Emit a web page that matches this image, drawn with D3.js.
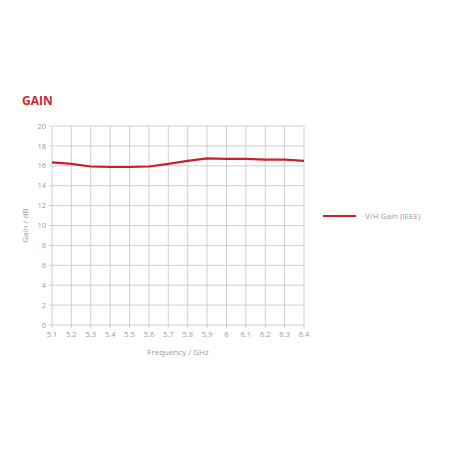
<!DOCTYPE html>
<html>
<head>
<meta charset="utf-8">
<script src="https://cdn.jsdelivr.net/npm/d3@7"></script>
<style>
  body { margin: 0; background: #fff; }
  svg { display: block; font-family: "Open Sans", sans-serif; }
</style>
</head>
<body>
<svg id="chart" width="452" height="452"></svg>
<script>
const FREQS = [5.1, 5.2, 5.3, 5.4, 5.5, 5.6, 5.7, 5.8, 5.9, 6.0, 6.1, 6.2, 6.3, 6.4];
const GAIN = [16.35, 16.2, 15.93, 15.88, 15.88, 15.93, 16.2, 16.5, 16.75, 16.7, 16.7, 16.62, 16.62, 16.5];
const X_TICKS = ['5.1', '5.2', '5.3', '5.4', '5.5', '5.6', '5.7', '5.8', '5.9', '6', '6.1', '6.2', '6.3', '6.4'];
const Y_TICKS = [0, 2, 4, 6, 8, 10, 12, 14, 16, 18, 20];
const SERIES_NAME = 'V/H Gain (IEEE)';

const RED = '#c9202b';
const GRID = '#cfcfcf';
const TEXT = '#9a9a9a';

const margin = { left: 52, top: 126, right: 148, bottom: 127 };
const svg = d3.select('#chart');
const W = 452, H = 452;
const innerW = W - margin.left - margin.right;
const innerH = H - margin.top - margin.bottom;

svg.append('text')
  .attr('x', 22).attr('y', 105)
  .attr('fill', '#c92a35')
  .attr('font-size', '12px')
  .attr('font-weight', 'bold')
  .text('GAIN');

const g = svg.append('g').attr('transform', `translate(${margin.left},${margin.top})`);

const x = d3.scalePoint().domain(d3.range(FREQS.length)).range([0, innerW]);
const y = d3.scaleLinear().domain([0, 20]).range([innerH, 0]);

// grid
g.append('g').selectAll('line.h').data(Y_TICKS).join('line')
  .attr('x1', -3).attr('x2', innerW)
  .attr('y1', d => y(d)).attr('y2', d => y(d))
  .attr('stroke', GRID).attr('stroke-width', 1);

g.append('g').selectAll('line.v').data(d3.range(FREQS.length)).join('line')
  .attr('x1', d => x(d)).attr('x2', d => x(d))
  .attr('y1', 0).attr('y2', innerH + 3)
  .attr('stroke', GRID).attr('stroke-width', 1);

// tick labels
g.append('g').selectAll('text').data(Y_TICKS).join('text')
  .attr('x', -6).attr('y', d => y(d))
  .attr('dy', '0.35em')
  .attr('text-anchor', 'end')
  .attr('fill', TEXT)
  .attr('font-size', '7.5px')
  .text(d => d);

g.append('g').selectAll('text').data(d3.range(FREQS.length)).join('text')
  .attr('x', d => x(d)).attr('y', innerH + 12)
  .attr('text-anchor', 'middle')
  .attr('fill', TEXT)
  .attr('font-size', '7.5px')
  .text(d => X_TICKS[d]);

// axis titles
g.append('text')
  .attr('x', innerW / 2).attr('y', innerH + 30)
  .attr('text-anchor', 'middle')
  .attr('fill', TEXT)
  .attr('font-size', '8px')
  .text('Frequency / GHz');

g.append('text')
  .attr('transform', `translate(-24,${innerH / 2}) rotate(-90)`)
  .attr('text-anchor', 'middle')
  .attr('fill', TEXT)
  .attr('font-size', '8px')
  .text('Gain / dB');

// series
const line = d3.line()
  .x((d, i) => x(i))
  .y(d => y(d));

g.append('path')
  .datum(GAIN)
  .attr('d', line)
  .attr('fill', 'none')
  .attr('stroke', RED)
  .attr('stroke-width', 2.2)
  .attr('stroke-linejoin', 'round');

// legend
const lg = svg.append('g').attr('transform', 'translate(323,216)');
lg.append('line')
  .attr('x1', 0).attr('x2', 33)
  .attr('stroke', RED).attr('stroke-width', 2);
lg.append('text')
  .attr('x', 42).attr('dy', '0.35em')
  .attr('fill', TEXT)
  .attr('font-size', '8px')
  .text(SERIES_NAME);
</script>
</body>
</html>
